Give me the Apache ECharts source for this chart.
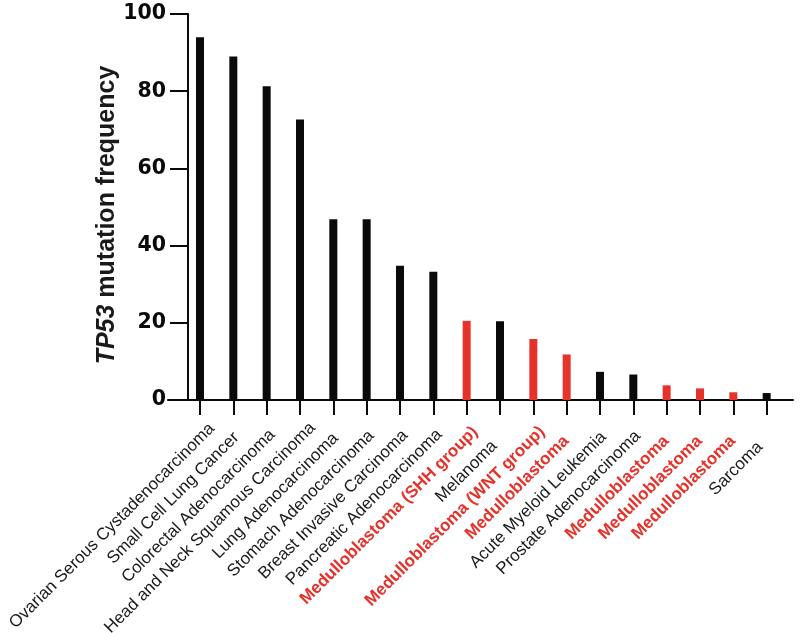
<!DOCTYPE html>
<html>
<head>
<meta charset="utf-8">
<script src="https://cdn.jsdelivr.net/npm/echarts@6/dist/echarts.min.js"></script>
<style>
html,body{margin:0;padding:0;background:#fff;}
#chart{width:800px;height:633px;}
</style>
</head>
<body>
<div id="chart"></div>
<script>
const categories = [
  'Ovarian Serous Cystadenocarcinoma',
  'Small Cell Lung Cancer',
  'Colorectal Adenocarcinoma',
  'Head and Neck Squamous Carcinoma',
  'Lung Adenocarcinoma',
  'Stomach Adenocarcinoma',
  'Breast Invasive Carcinoma',
  'Pancreatic Adenocarcinoma',
  'Medulloblastoma (SHH group)',
  'Melanoma',
  'Medulloblastoma (WNT group)',
  'Medulloblastoma',
  'Acute Myeloid Leukemia',
  'Prostate Adenocarcinoma',
  'Medulloblastoma',
  'Medulloblastoma',
  'Medulloblastoma',
  'Sarcoma'
];
const frequencies = [94, 89, 81.3, 72.7, 46.8, 46.8, 34.8, 33.2, 20.5, 20.4, 15.8, 11.8, 7.3, 6.6, 3.8, 3.0, 2.0, 1.8];
const highlighted = [0,0,0,0,0,0,0,0,1,0,1,1,0,0,1,1,1,0];
const yMin = 0, yMax = 100, yInterval = 20;

const RED = '#e5322a';
const BLACK = '#0a0a0a';
const LABEL_FONT = '"Liberation Sans", Arial, sans-serif';
const LABEL_SIZE = 17;

// label layout: shift each rotated label along its baseline in proportion to its width
const ctx = document.createElement('canvas').getContext('2d');
const rich = {};
categories.forEach((c, i) => {
  const bold = !!highlighted[i];
  ctx.font = (bold ? 'bold ' : '') + LABEL_SIZE + 'px ' + LABEL_FONT;
  const w = ctx.measureText(c).width;
  rich['l' + i] = {
    color: bold ? RED : '#1a1a1a',
    fontWeight: bold ? 'bold' : 'normal',
    fontSize: LABEL_SIZE,
    fontFamily: LABEL_FONT,
    padding: [0, 0.756 * w + 35, 0, 0]
  };
});

const chart = echarts.init(document.getElementById('chart'), null, {renderer: 'canvas'});
chart.setOption({
  backgroundColor: '#ffffff',
  animation: false,
  grid: [
    {left: 183.33, width: 600, top: 14, height: 386, containLabel: false, outerBoundsMode: 'none'},
    {left: 168, right: 7, top: 14, height: 386, containLabel: false, outerBoundsMode: 'none'}
  ],
  xAxis: [
    {
      type: 'category', gridIndex: 0, data: categories,
      axisLine: {show: false},
      axisTick: {show: true, alignWithLabel: true, length: 15, lineStyle: {color: BLACK, width: 2}},
      axisLabel: {
        interval: 0, rotate: 45, margin: 38, align: 'center', verticalAlign: 'middle',
        formatter: (v, i) => '{l' + i + '|' + v + '}',
        rich: rich
      },
      splitLine: {show: false}
    },
    {
      type: 'value', gridIndex: 1, min: 0, max: 1,
      axisLine: {show: true, lineStyle: {color: BLACK, width: 2}},
      axisTick: {show: false}, axisLabel: {show: false}, splitLine: {show: false}
    }
  ],
  yAxis: [
    {
      type: 'value', gridIndex: 0, min: yMin, max: yMax, interval: yInterval,
      offset: -4.67,
      axisLine: {show: true, lineStyle: {color: BLACK, width: 2}},
      axisTick: {show: true, length: 18, lineStyle: {color: BLACK, width: 2}},
      axisLabel: {margin: 22, color: '#0a0a0a', fontSize: 20.5, fontWeight: 'bold', fontFamily: 'DejaVu Sans, sans-serif'},
      splitLine: {show: false},
      name: '{i|TP53} mutation frequency',
      nameLocation: 'middle', nameRotate: 90, nameGap: 68, nameMoveOverlap: false,
      nameTextStyle: {
        color: '#1a1a1a', fontSize: 25, fontWeight: 'bold', fontFamily: LABEL_FONT,
        padding: [0, 16, 0, 0],
        rich: {i: {fontStyle: 'italic', fontWeight: 'bold', fontSize: 25, fontFamily: LABEL_FONT, color: '#1a1a1a'}}
      }
    },
    {type: 'value', gridIndex: 1, show: false, min: 0, max: 1}
  ],
  series: [{
    type: 'bar', xAxisIndex: 0, yAxisIndex: 0, barWidth: 8,
    data: frequencies.map((v, i) => ({value: v, itemStyle: {color: highlighted[i] ? RED : BLACK}}))
  }]
});
</script>
</body>
</html>
